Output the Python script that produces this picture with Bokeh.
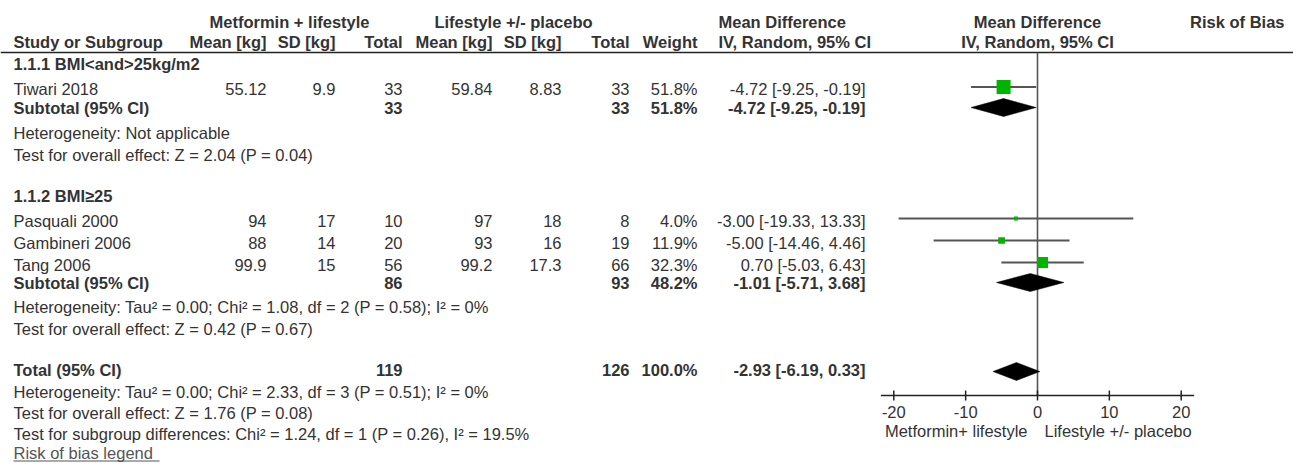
import math
from bokeh.plotting import figure
from bokeh.models import Range1d
from bokeh.core.properties import value
from bokeh.embed import file_html
from bokeh.resources import INLINE

# ---------------- data ----------------
group_names = ["1.1.1 BMI<and>25kg/m2", "1.1.2 BMI\u226525"]
studies = ["Tiwari 2018", "Pasquali 2000", "Gambineri 2006", "Tang 2006"]
met_mean = [55.12, 94, 88, 99.9]
met_sd = [9.9, 17, 14, 15]
met_n = [33, 10, 20, 56]
life_mean = [59.84, 97, 93, 99.2]
life_sd = [8.83, 18, 16, 17.3]
life_n = [33, 8, 19, 66]
weight = [51.8, 4.0, 11.9, 32.3]
md = [-4.72, -3.00, -5.00, 0.70]
md_lo = [-9.25, -19.33, -14.46, -5.03]
md_hi = [-0.19, 13.33, 4.46, 6.43]

sub_met_n = [33, 86]
sub_life_n = [33, 93]
sub_weight = [51.8, 48.2]
sub_md = [-4.72, -1.01]
sub_lo = [-9.25, -5.71]
sub_hi = [-0.19, 3.68]
sub_het = ["Heterogeneity: Not applicable",
           "Heterogeneity: Tau\u00b2 = 0.00; Chi\u00b2 = 1.08, df = 2 (P = 0.58); I\u00b2 = 0%"]
sub_test = ["Test for overall effect: Z = 2.04 (P = 0.04)",
            "Test for overall effect: Z = 0.42 (P = 0.67)"]

tot_met_n = 119
tot_life_n = 126
tot_weight = 100.0
tot_md = -2.93
tot_lo = -6.19
tot_hi = 0.33
tot_notes = ["Heterogeneity: Tau\u00b2 = 0.00; Chi\u00b2 = 2.33, df = 3 (P = 0.51); I\u00b2 = 0%",
             "Test for overall effect: Z = 1.76 (P = 0.08)",
             "Test for subgroup differences: Chi\u00b2 = 1.24, df = 1 (P = 0.26), I\u00b2 = 19.5%"]

axis_ticks = [-20, -10, 0, 10, 20]
favours = ["Metformin+ lifestyle", "Lifestyle +/- placebo"]

# ---------------- layout ----------------
W, H = 1293, 475
FONT = "Liberation Sans"
FS = "16.5px"
TXT = "#333333"
GREEN = "#00b400"
ZERO_X = 1037.0
PPU = 7.185

p = figure(width=W, height=H, x_range=Range1d(0, W), y_range=Range1d(H, 0),
           output_backend="svg", toolbar_location=None, min_border=0,
           x_axis_type=None, y_axis_type=None)
p.grid.visible = False
p.outline_line_color = None
p.background_fill_color = "white"
p.extra_x_ranges = {"md": Range1d(-ZERO_X / PPU, (W - ZERO_X) / PPU)}


def txt(x, y, s, align="left", bold=False, color=TXT, rng="default", xoff=0):
    p.text(x=[x], y=[y], text=[s], text_align=align, text_baseline="middle",
           text_font=value(FONT), text_font_size=FS,
           text_font_style="bold" if bold else "normal",
           text_color=color, x_range_name=rng, x_offset=xoff)


def fmt(v):
    return f"{v:g}"


def fmt_md(m, lo, hi):
    return f"{m:.2f} [{lo:.2f}, {hi:.2f}]"


LX = 13
C_MMEAN, C_MSD, C_MTOT = 266, 335, 402
C_LMEAN, C_LSD, C_LTOT = 492, 561, 629
C_W, C_MD, C_MDH = 697, 865, 718

# headers
Y_H1, Y_H2, Y_RULE = 21, 41.5, 52
txt(289, Y_H1, "Metformin + lifestyle", "center", True)
txt(513, Y_H1, "Lifestyle +/- placebo", "center", True)
txt(C_MDH, Y_H1, "Mean Difference", "left", True)
txt(0, Y_H1, "Mean Difference", "center", True, rng="md")
txt(1284, Y_H1, "Risk of Bias", "right", True)

txt(LX, Y_H2, "Study or Subgroup", "left", True)
for x, s in [(C_MMEAN, "Mean [kg]"), (C_MSD, "SD [kg]"), (C_MTOT, "Total"),
             (C_LMEAN, "Mean [kg]"), (C_LSD, "SD [kg]"), (C_LTOT, "Total"), (C_W, "Weight")]:
    txt(x, Y_H2, s, "right", True)
txt(C_MDH, Y_H2, "IV, Random, 95% CI", "left", True)
txt(0, Y_H2, "IV, Random, 95% CI", "center", True, rng="md")

p.segment(x0=[0], y0=[Y_RULE], x1=[W], y1=[Y_RULE], line_color="#222222", line_width=1.6)

# row positions
group_y = [63.5, 195]
study_y = [88.5, 220, 242, 264]
sub_y = [107, 282]
het_y = [132, 306]
test_y = [154, 328]
TOT_Y = 369
tot_note_y = [391, 412, 433]
RISK_Y = 452
AXIS_Y = 395
GOFF = 2

for gi, name in enumerate(group_names):
    txt(LX, group_y[gi], name, bold=True)
    txt(C_MTOT, sub_y[gi], str(sub_met_n[gi]), "right", True)
    txt(C_LTOT, sub_y[gi], str(sub_life_n[gi]), "right", True)
    txt(C_W, sub_y[gi], f"{sub_weight[gi]:.1f}%", "right", True)
    txt(C_MD, sub_y[gi], fmt_md(sub_md[gi], sub_lo[gi], sub_hi[gi]), "right", True)
    txt(LX, sub_y[gi], "Subtotal (95% CI)", bold=True)
    txt(LX, het_y[gi], sub_het[gi])
    txt(LX, test_y[gi], sub_test[gi])

for i, s in enumerate(studies):
    y = study_y[i]
    txt(LX, y, s)
    txt(C_MMEAN, y, fmt(met_mean[i]), "right")
    txt(C_MSD, y, fmt(met_sd[i]), "right")
    txt(C_MTOT, y, str(met_n[i]), "right")
    txt(C_LMEAN, y, fmt(life_mean[i]), "right")
    txt(C_LSD, y, fmt(life_sd[i]), "right")
    txt(C_LTOT, y, str(life_n[i]), "right")
    txt(C_W, y, f"{weight[i]:.1f}%", "right")
    txt(C_MD, y, fmt_md(md[i], md_lo[i], md_hi[i]), "right")

txt(LX, TOT_Y, "Total (95% CI)", bold=True)
txt(C_MTOT, TOT_Y, str(tot_met_n), "right", True)
txt(C_LTOT, TOT_Y, str(tot_life_n), "right", True)
txt(C_W, TOT_Y, f"{tot_weight:.1f}%", "right", True)
txt(C_MD, TOT_Y, fmt_md(tot_md, tot_lo, tot_hi), "right", True)
for s, y in zip(tot_notes, tot_note_y):
    txt(LX, y, s)

txt(LX, RISK_Y, "Risk of bias legend", color="#555555")
p.segment(x0=[LX], y0=[RISK_Y + 8.5], x1=[LX + 146], y1=[RISK_Y + 8.5], line_color="#555555", line_width=1)

# ---------------- forest plot ----------------
p.segment(x0=[0], y0=[Y_RULE], x1=[0], y1=[AXIS_Y], line_color="#555555", line_width=1.6, x_range_name="md")
p.segment(x0=md_lo, y0=[y - GOFF for y in study_y], x1=md_hi, y1=[y - GOFF for y in study_y],
          line_color="#555555", line_width=1.8, x_range_name="md")
p.scatter(x=md, y=[y - GOFF for y in study_y], marker="square",
          size=[1.95 * math.sqrt(w) for w in weight],
          fill_color=GREEN, line_color=None, x_range_name="md")
dx, dy = [], []
for m, lo, hi, y in list(zip(sub_md, sub_lo, sub_hi, sub_y)) + [(tot_md, tot_lo, tot_hi, TOT_Y + 2)]:
    dx.append([lo, m, hi, m])
    dy.append([y, y - 9, y, y + 9])
p.patches(xs=dx, ys=dy, fill_color="black", line_color="black", line_width=0.5, x_range_name="md")

p.segment(x0=[min(axis_ticks) - 1.8], y0=[AXIS_Y], x1=[max(axis_ticks) + 1.8], y1=[AXIS_Y],
          line_color="#222222", line_width=1.5, x_range_name="md")
p.segment(x0=axis_ticks, y0=[AXIS_Y - 5] * len(axis_ticks), x1=axis_ticks, y1=[AXIS_Y + 5] * len(axis_ticks),
          line_color="#222222", line_width=1.5, x_range_name="md")
p.text(x=axis_ticks, y=[AXIS_Y + 16] * len(axis_ticks), text=[str(t) for t in axis_ticks],
       text_align="center", text_baseline="middle", text_font=value(FONT), text_font_size=FS,
       text_color=TXT, x_range_name="md")
txt(0, AXIS_Y + 35, favours[0], "right", rng="md", xoff=-10)
txt(0, AXIS_Y + 35, favours[1], "left", rng="md", xoff=7)

open("out.html", "w").write(file_html(p, INLINE))
